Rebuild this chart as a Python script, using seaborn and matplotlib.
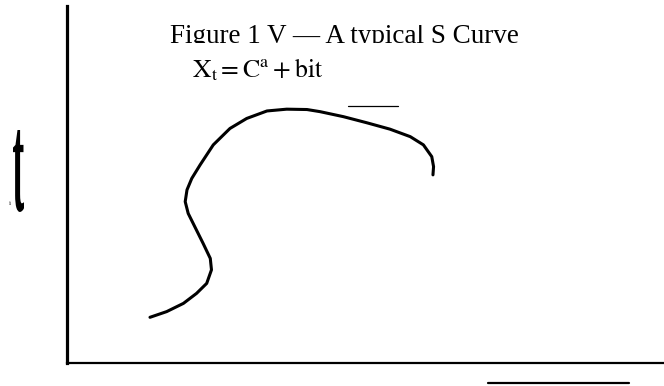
import matplotlib
matplotlib.use("Agg")
import matplotlib.pyplot as plt
import seaborn as sns
import pandas as pd
from matplotlib.textpath import TextPath
from matplotlib.patches import PathPatch
from matplotlib.font_manager import FontProperties
from matplotlib.transforms import Affine2D, Bbox

# hand drawn S curve (axis units 0..100)
curve_x = [13.9, 16.7, 19.5, 21.7, 23.4, 24.2, 24.0, 22.8, 21.4, 20.3, 19.8,
           20.1, 20.9, 22.3, 24.5, 27.3, 30.1, 33.5, 36.8, 40.2, 42.4, 46.3,
           50.2, 54.1, 57.5, 59.7, 61.1, 61.4, 61.3]
curve_y = [12.8, 14.4, 16.7, 19.5, 22.3, 26.1, 29.3, 33.5, 38.2, 41.9, 45.2,
           48.5, 51.7, 55.5, 61.1, 65.7, 68.5, 70.6, 71.1, 71.0, 70.4, 69.0,
           67.3, 65.5, 63.4, 61.1, 57.8, 55.0, 52.7]
# short stray strokes
top_stroke_x = [47.1, 55.5]
top_stroke_y = [72.0, 72.0]
low_stroke_x = [70.5, 94.1]
low_stroke_y = [-5.6, -5.6]

title = "Figure 1 V \u2014 A typical S Curve"
formula = r"$\mathrm{X_t = C^a + bit}$"

sns.set_theme(style="white")
plt.rcParams["font.family"] = ["Liberation Serif", "DejaVu Serif"]
plt.rcParams["mathtext.fontset"] = "stix"

W, H = 664, 386
fig = plt.figure(figsize=(W / 100, H / 100), dpi=100)
ax = fig.add_axes([67 / W, (H - 363) / H, (W - 67) / W, (363 - 6) / H])

df = pd.DataFrame({"x": curve_x, "y": curve_y})
sns.lineplot(data=df, x="x", y="y", sort=False, estimator=None,
             color="black", lw=2.2, ax=ax,
             solid_joinstyle="round", solid_capstyle="round")
ax.plot(top_stroke_x, top_stroke_y, color="black", lw=0.9)
ax.plot(low_stroke_x, low_stroke_y, color="black", lw=1.6, clip_on=False)

ax.set_xlim(0, 100)
ax.set_ylim(0, 100)
ax.set_xticks([])
ax.set_yticks([])
ax.set_xlabel("")
ax.set_ylabel("")
for s in ["top", "right"]:
    ax.spines[s].set_visible(False)
ax.spines["left"].set_linewidth(2.3)
ax.spines["bottom"].set_linewidth(1.6)
ax.spines["left"].set_color("black")
ax.spines["bottom"].set_color("black")

# title, cut off along its baseline as in the scan
t = fig.text(170 / W, 1 - 43 / H, title, fontsize=19.5, color="black",
             ha="left", va="baseline")
t.set_clip_box(Bbox([[0, H - 43], [W, H - 25]]))
t.set_clip_on(True)

fig.text(192 / W, 1 - 77 / H, formula, fontsize=18.5, color="black",
         ha="left", va="baseline")

# stretched "t" on the left side
fp = FontProperties(family="Liberation Serif", weight="bold")
tp = TextPath((0, 0), "t", size=10, prop=fp)
ext = tp.get_extents()
sx = (24 - 13) / W / ext.width
sy = (212 - 130) / H / ext.height
tr = Affine2D().translate(-ext.x0, -ext.y0).scale(sx, sy).translate(13 / W, 1 - 212 / H)
fig.patches.append(PathPatch(tp, transform=tr + fig.transFigure,
                             color="black", lw=0))
fig.text(9 / W, 1 - 205 / H, "i", fontsize=5, color="black",
         ha="left", va="baseline")

fig.savefig("out.png", dpi=100)
